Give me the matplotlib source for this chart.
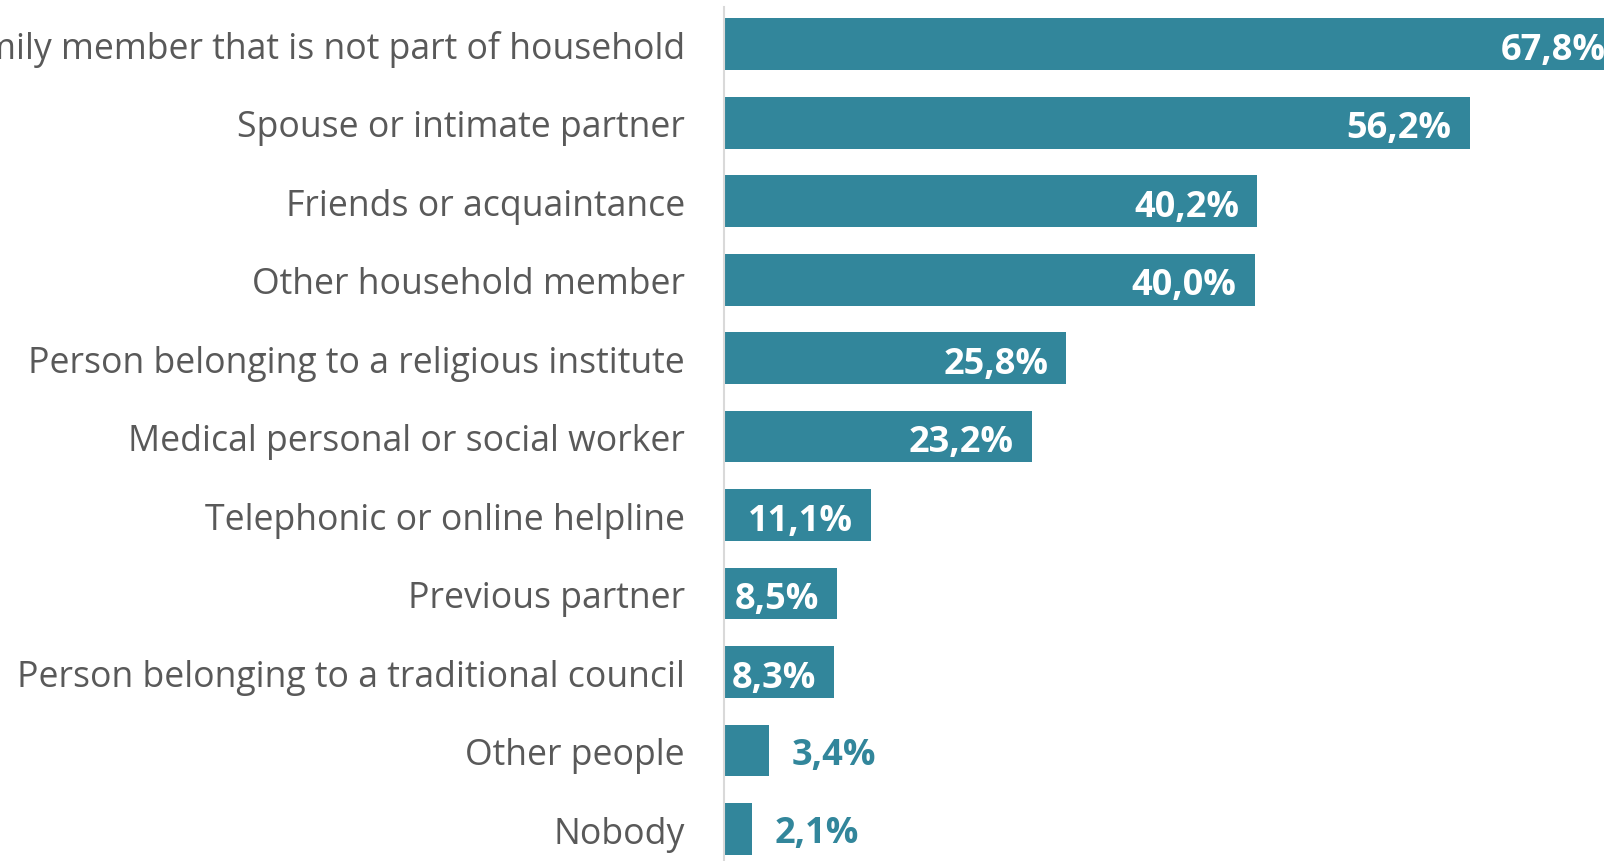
import matplotlib
matplotlib.use("Agg")
import matplotlib.pyplot as plt

categories = [
    "Family member that is not part of household",
    "Spouse or intimate partner",
    "Friends or acquaintance",
    "Other household member",
    "Person belonging to a religious institute",
    "Medical personal or social worker",
    "Telephonic or online helpline",
    "Previous partner",
    "Person belonging to a traditional council",
    "Other people",
    "Nobody",
]
values = [67.8, 56.2, 40.2, 40.0, 25.8, 23.2, 11.1, 8.5, 8.3, 3.4, 2.1]
value_labels = ["67,8%", "56,2%", "40,2%", "40,0%", "25,8%", "23,2%", "11,1%", "8,5%", "8,3%", "3,4%", "2,1%"]

BAR = "#32869B"
TXT = "#595959"

W, H = 1604, 862
fig = plt.figure(figsize=(W / 100, H / 100), dpi=100)
ax_left = 724 / W
ax = fig.add_axes([ax_left, 0, 1 - ax_left, 1 - 8 / H])

pos = list(range(len(categories)))
ax.barh(pos, values, height=0.66, color=BAR, zorder=2)
ax.set_xlim(0, (W - 724) / 13.27)
ax.set_ylim(10 + (862 - 830) / 78.5, -(45.2 - 8) / 78.5)

ax.set_yticks(pos)
ax.set_yticklabels(categories, fontsize=25.7, color=TXT, fontfamily="Open Sans")
ax.tick_params(axis="y", length=0, pad=28)
ax.tick_params(axis="x", bottom=False, labelbottom=False)
for s in ["top", "right", "bottom"]:
    ax.spines[s].set_visible(False)
ax.spines["left"].set_color("#D9D9D9")
ax.spines["left"].set_linewidth(1.5)

for i, (v, lab) in enumerate(zip(values, value_labels)):
    if v > 5:
        ax.annotate(lab, (v, i), xytext=(-13, -4), textcoords="offset points",
                    ha="right", va="center", color="white", fontsize=26,
                    fontweight="bold", fontfamily="Open Sans", annotation_clip=False)
    else:
        ax.annotate(lab, (v, i), xytext=(16, -3), textcoords="offset points",
                    ha="left", va="center", color=BAR, fontsize=26,
                    fontweight="bold", fontfamily="Open Sans", annotation_clip=False)

fig.savefig("out.png", dpi=100)
